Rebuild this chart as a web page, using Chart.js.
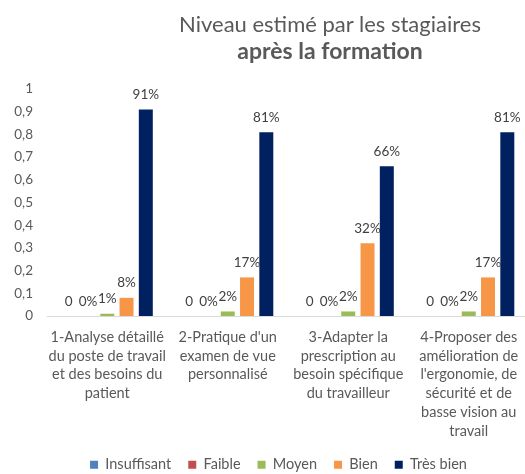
<!DOCTYPE html>
<html><head><meta charset="utf-8">
<script src="https://cdn.jsdelivr.net/npm/chart.js@4"></script>
<style>
html,body{margin:0;padding:0;background:#fff;overflow:hidden}
#clip{position:relative;width:525px;height:474px;overflow:hidden}
#w{position:absolute;left:0;top:0;width:557px;height:482px}
#t{position:absolute;left:0;top:11px;width:660px;text-align:center;color:#595959;font-family:Lato;z-index:2;line-height:26px}
#t .l1{font-size:22px}
#t .l2{font-size:23px;font-weight:bold}
</style>
</head><body><div id="clip">
<div id="t"><div class="l1">Niveau estimé par les stagiaires</div><div class="l2">après la formation</div></div>
<div id="w"><canvas id="c"></canvas></div></div>
<script>
const categories = [
  ["1-Analyse détaillé","du poste de travail","et des besoins du","patient"],
  ["2-Pratique d'un","examen de vue","personnalisé"],
  ["3-Adapter la","prescription au","besoin spécifique","du travailleur"],
  ["4-Proposer des","amélioration de","l'ergonomie, de","sécurité et de","basse vision au","travail"]
];
const seriesNames = ["Insuffisant","Faible","Moyen","Bien","Très bien"];
const insuffisant = [0,0,0,0];
const faible = [0,0,0,0];
const moyen = [0.01,0.02,0.02,0.02];
const bien = [0.08,0.17,0.32,0.17];
const tresBien = [0.91,0.81,0.66,0.81];
const yTicks = [0,0.1,0.2,0.3,0.4,0.5,0.6,0.7,0.8,0.9,1];
const colors = ["#4F81BD","#C0504D","#9BBB59","#F79646","#002060"];
const FONT = "Lato";

const labelPlugin = {
  id:'barLabels',
  afterLayout(chart){
    const l = chart.legend;
    if (l) { l.left += 14; l.right += 14; }
  },
  afterDatasetsDraw(chart){
    const ctx = chart.ctx;
    ctx.save();
    ctx.font = "13.5px " + FONT;
    ctx.fillStyle = "#404040";
    ctx.textAlign = "center";
    ctx.textBaseline = "bottom";
    chart.data.datasets.forEach((ds,i)=>{
      const meta = chart.getDatasetMeta(i);
      meta.data.forEach((el,j)=>{
        const v = ds.data[j];
        const t = i===0 ? String(Math.round(v*100)) : Math.round(v*100)+"%";
        ctx.fillText(t, el.x, el.y - 8);
      });
    });
    ctx.restore();
  }
};

const dataArr = [insuffisant,faible,moyen,bien,tresBien];
new Chart(document.getElementById('c'),{
  type:'bar',
  data:{
    labels:categories,
    datasets:seriesNames.map((n,i)=>({label:n,data:dataArr[i],backgroundColor:colors[i],borderWidth:0,
      categoryPercentage:0.8,barPercentage:0.725}))
  },
  options:{
    responsive:true,maintainAspectRatio:false,animation:false,
    layout:{padding:{left:0,right:28,top:89,bottom:0}},
    plugins:{
      title:{display:false},
      legend:{position:'bottom',labels:{boxWidth:8,boxHeight:8,color:"#595959",
        font:{family:FONT,size:14.5},padding:17}},
      tooltip:{enabled:false}
    },
    scales:{
      x:{grid:{display:false,drawTicks:false},border:{color:"#D9D9D9"},
        afterFit(s){s.height=124.5;},
        ticks:{color:"#595959",font:{family:FONT,size:14.5,lineHeight:1.29},maxRotation:0,autoSkip:false,padding:12}},
      y:{min:0,max:1,grid:{display:false,drawTicks:false},border:{display:false},
        afterFit(s){s.width=47;},
        afterBuildTicks(s){s.ticks=yTicks.map(v=>({value:v}));},
        ticks:{color:"#595959",font:{family:FONT,size:13.5},padding:14,
          callback:v=>String(v).replace('.',',')}}
    }
  },
  plugins:[labelPlugin]
});
</script></body></html>
